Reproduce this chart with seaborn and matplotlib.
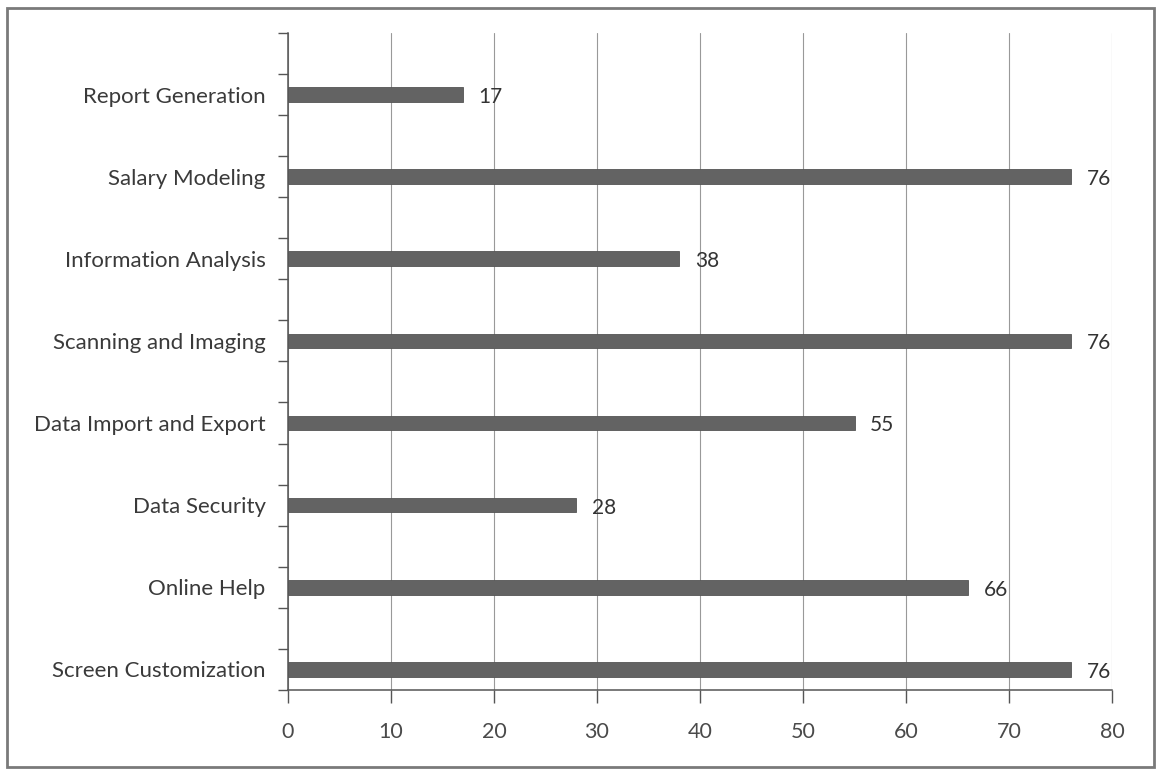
import matplotlib
matplotlib.use("Agg")
import matplotlib.pyplot as plt
from matplotlib.patches import Rectangle
from matplotlib.ticker import FixedLocator
import seaborn as sns
import pandas as pd

categories = [
    "Report Generation",
    "Salary Modeling",
    "Information Analysis",
    "Scanning and Imaging",
    "Data Import and Export",
    "Data Security",
    "Online Help",
    "Screen Customization",
]
values = [17, 76, 38, 76, 55, 28, 66, 76]
x_ticks = [0, 10, 20, 30, 40, 50, 60, 70, 80]

sns.set_theme(style="white")
plt.rcParams["font.family"] = ["Lato", "DejaVu Sans"]

df = pd.DataFrame({"feature": categories, "score": values})

fig = plt.figure(figsize=(11.61, 7.69), dpi=100)
ax = fig.add_axes([0.248, 0.103, 0.710, 0.854])

sns.barplot(data=df, x="score", y="feature", order=categories, orient="h",
            color="#636363", saturation=1, width=0.18, ax=ax,
            edgecolor="#555555", linewidth=0.6)

ax.set_xlim(0, 80)
ax.set_ylim(7.25, -0.75)
ax.xaxis.set_major_locator(FixedLocator(x_ticks))
ax.set_xticklabels([str(t) for t in x_ticks], fontsize=15.5, color="#4a4a4a")
ax.tick_params(axis="x", pad=14)

# category ticks: labels at bar centres, tick marks every half step
ax.set_yticks(range(len(categories)))
ax.set_yticklabels(categories, fontsize=16, color="#3a3a3a")
ax.tick_params(axis="y", length=0, pad=16)
ax.yaxis.set_minor_locator(FixedLocator([-0.75 + 0.5 * i for i in range(17)]))
ax.tick_params(axis="y", which="minor", direction="out", length=7,
               width=1, color="#555555", left=True)
ax.tick_params(axis="x", which="major", direction="out", length=9,
               width=1, color="#555555", bottom=True)

ax.set_xlabel("")
ax.set_ylabel("")

ax.grid(axis="x", color="#999999", linewidth=0.8)
ax.set_axisbelow(True)
for side in ["top", "right"]:
    ax.spines[side].set_visible(False)
for side in ["left", "bottom"]:
    ax.spines[side].set_color("#555555")
    ax.spines[side].set_linewidth(1.1)

for i, v in enumerate(values):
    ax.text(v + 1.5, i + 0.03, str(v), va="center", ha="left",
            fontsize=15, color="#333333")

# outer chart frame
fig.patches.append(Rectangle((0.006, 0.003), 0.988, 0.987,
                             transform=fig.transFigure, fill=False,
                             edgecolor="#7a7a7a", linewidth=2))

fig.savefig("out.png", dpi=100)
